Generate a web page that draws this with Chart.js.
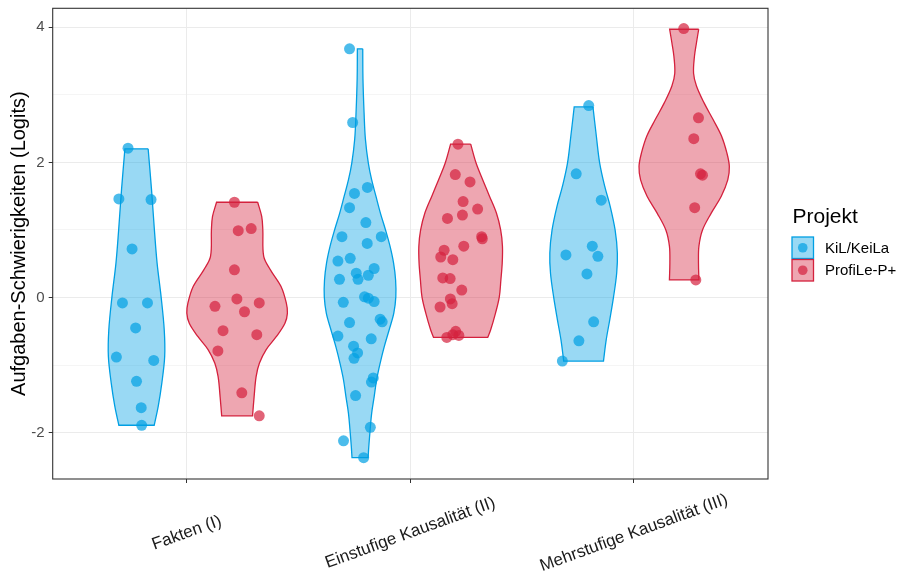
<!DOCTYPE html>
<html>
<head>
<meta charset="utf-8">
<script src="https://cdn.jsdelivr.net/npm/chart.js@4.4.1/dist/chart.umd.min.js"></script>
<style>
  html, body { margin: 0; padding: 0; background: #fff; }
</style>
</head>
<body>
<canvas id="violinChart" width="913" height="573"></canvas>
<script>
// Categories and projects
const categories = ["Fakten (I)", "Einstufige Kausalität (II)", "Mehrstufige Kausalität (III)"];
const projects = ["KiL/KeiLa", "ProfiLe-P+"];
const yTicks = [-2, -1, 0, 1, 2, 3, 4];

// Violin outlines: logit levels (top -> bottom) and half widths (in category units)
const kilFaktenLevels = [2.20, 1.60, 1.00, 0.51, 0.01, -0.48, -0.87, -1.27, -1.61, -1.89];
const kilFaktenWidths = [0.052, 0.067, 0.080, 0.092, 0.110, 0.124, 0.126, 0.113, 0.097, 0.079];
const proFaktenLevels = [1.41, 1.20, 1.00, 0.61, 0.41, 0.16, -0.08, -0.23, -0.38, -0.58, -0.77, -0.97, -1.17, -1.47, -1.75];
const proFaktenWidths = [0.092, 0.110, 0.115, 0.119, 0.149, 0.197, 0.220, 0.225, 0.214, 0.175, 0.130, 0.100, 0.085, 0.076, 0.069];
const kilEinLevels = [3.68, 3.23, 2.73, 2.34, 1.99, 1.74, 1.50, 1.25, 1.00, 0.76, 0.51, 0.26, 0.01, -0.23, -0.48, -0.73, -0.97, -1.22, -1.47, -1.71, -1.96, -2.21, -2.37];
const kilEinWidths = [0.012, 0.013, 0.018, 0.024, 0.037, 0.052, 0.071, 0.091, 0.114, 0.134, 0.150, 0.159, 0.160, 0.151, 0.130, 0.108, 0.090, 0.074, 0.063, 0.052, 0.045, 0.039, 0.036];
const proEinLevels = [2.27, 1.99, 1.74, 1.50, 1.25, 1.00, 0.76, 0.51, 0.26, 0.01, -0.23, -0.48, -0.59];
const proEinWidths = [0.045, 0.069, 0.099, 0.129, 0.160, 0.179, 0.187, 0.186, 0.180, 0.173, 0.156, 0.134, 0.121];
const kilMehrLevels = [2.82, 2.39, 1.99, 1.64, 1.35, 1.00, 0.66, 0.36, 0.01, -0.33, -0.63, -0.94];
const kilMehrWidths = [0.042, 0.057, 0.072, 0.095, 0.119, 0.141, 0.151, 0.148, 0.134, 0.117, 0.101, 0.089];
const proMehrLevels = [3.97, 3.77, 3.57, 3.32, 3.13, 2.88, 2.63, 2.39, 2.14, 1.94, 1.74, 1.50, 1.25, 1.00, 0.76, 0.51, 0.26];
const proMehrWidths = [0.065, 0.055, 0.046, 0.042, 0.055, 0.089, 0.130, 0.167, 0.191, 0.202, 0.195, 0.166, 0.121, 0.082, 0.066, 0.064, 0.066];

// Item difficulties (logits) and their horizontal jitter
const kilFaktenY = [2.21, 1.46, 1.45, 0.72, -0.08, -0.08, -0.45, -0.88, -0.93, -1.24, -1.63, -1.89];
const kilFaktenJitter = [-0.038, -0.079, 0.065, -0.020, -0.063, 0.049, -0.004, -0.090, 0.077, 0.000, 0.021, 0.023];
const proFaktenY = [1.41, 0.99, 1.02, 0.41, -0.02, -0.13, -0.08, -0.21, -0.49, -0.55, -0.79, -1.41, -1.75];
const proFaktenJitter = [-0.012, 0.005, 0.063, -0.012, -0.001, -0.099, 0.099, 0.033, -0.063, 0.088, -0.086, 0.021, 0.099];
const kilEinY = [3.68, 2.59, 1.63, 1.54, 1.33, 1.11, 0.90, 0.80, 0.90, 0.58, 0.54, 0.43, 0.36, 0.33, 0.27, 0.27, 0.01, -0.01, -0.06, -0.07, -0.32, -0.36, -0.37, -0.57, -0.61, -0.72, -0.82, -0.90, -1.19, -1.25, -1.45, -1.92, -2.12, -2.37];
const kilEinJitter = [-0.047, -0.033, 0.033, -0.025, -0.047, 0.026, -0.081, 0.032, 0.095, -0.044, -0.099, 0.063, -0.017, 0.037, -0.009, -0.092, 0.020, 0.037, 0.063, -0.075, 0.090, 0.099, -0.047, -0.099, 0.050, -0.029, -0.011, -0.027, 0.059, 0.051, -0.020, 0.046, -0.074, 0.016];
const proEinY = [2.27, 1.82, 1.71, 1.42, 1.31, 1.22, 1.17, 0.90, 0.87, 0.76, 0.70, 0.60, 0.56, 0.29, 0.28, 0.11, -0.02, -0.09, -0.14, -0.50, -0.55, -0.56, -0.59];
const proEinJitter = [-0.012, -0.024, 0.042, 0.011, 0.076, 0.008, -0.059, 0.094, 0.097, 0.014, -0.074, -0.089, -0.035, -0.080, -0.047, 0.005, -0.046, -0.038, -0.092, -0.022, -0.035, -0.008, -0.062];
const kilMehrY = [2.84, 1.83, 1.44, 0.76, 0.63, 0.61, 0.35, -0.36, -0.64, -0.94];
const kilMehrJitter = [0.023, -0.033, 0.079, 0.039, -0.079, 0.064, 0.015, 0.045, -0.021, -0.095];
const proMehrY = [3.98, 2.66, 2.35, 1.83, 1.81, 1.33, 0.26];
const proMehrJitter = [-0.002, 0.064, 0.043, 0.073, 0.082, 0.047, 0.052];

const lineColors = ["#009FE3", "#D4213D"];
const fillColors = ["rgba(0, 159, 227, 0.4)", "rgba(212, 33, 61, 0.4)"];
const pointColors = ["rgba(0, 159, 227, 0.7)", "rgba(212, 33, 61, 0.7)"];
const dodge = [-0.225, 0.225];

const groups = [
  { cat: 0, proj: 0, levels: kilFaktenLevels, widths: kilFaktenWidths, y: kilFaktenY, jitter: kilFaktenJitter },
  { cat: 0, proj: 1, levels: proFaktenLevels, widths: proFaktenWidths, y: proFaktenY, jitter: proFaktenJitter },
  { cat: 1, proj: 0, levels: kilEinLevels, widths: kilEinWidths, y: kilEinY, jitter: kilEinJitter },
  { cat: 1, proj: 1, levels: proEinLevels, widths: proEinWidths, y: proEinY, jitter: proEinJitter },
  { cat: 2, proj: 0, levels: kilMehrLevels, widths: kilMehrWidths, y: kilMehrY, jitter: kilMehrJitter },
  { cat: 2, proj: 1, levels: proMehrLevels, widths: proMehrWidths, y: proMehrY, jitter: proMehrJitter },
];

// closed outline: right side down, bottom cap, left side up, top cap (corners doubled to keep them sharp)
function outline(g) {
  const c = g.cat + 1 + dodge[g.proj];
  const n = g.levels.length;
  const pts = [];
  for (let i = 0; i < n; i++) pts.push({ x: c + g.widths[i], y: g.levels[i] });
  pts.push({ x: c + g.widths[n - 1], y: g.levels[n - 1] });
  pts.push({ x: c - g.widths[n - 1], y: g.levels[n - 1] });
  for (let i = n - 1; i >= 0; i--) pts.push({ x: c - g.widths[i], y: g.levels[i] });
  pts.push({ x: c - g.widths[0], y: g.levels[0] });
  pts.push({ x: c + g.widths[0], y: g.levels[0] });
  return pts;
}

const datasets = [];
groups.forEach((g) => {
  datasets.push({
    type: "line",
    data: outline(g),
    borderColor: lineColors[g.proj],
    backgroundColor: fillColors[g.proj],
    borderWidth: 1.3,
    fill: "shape",
    tension: 0.35,
    pointRadius: 0,
    order: 2,
  });
});
groups.forEach((g) => {
  datasets.push({
    type: "scatter",
    data: g.y.map((v, i) => ({ x: g.cat + 1 + dodge[g.proj] + g.jitter[i], y: v })),
    backgroundColor: pointColors[g.proj],
    borderWidth: 0,
    pointRadius: 5.5,
    order: 1,
  });
});

const FONT = '"Liberation Sans", Arial, sans-serif';

const decorations = {
  id: "decorations",
  afterDraw(chart) {
    const { ctx, chartArea: a, scales: { x } } = chart;
    ctx.save();
    // panel border
    ctx.strokeStyle = "#333333";
    ctx.lineWidth = 1.1;
    ctx.strokeRect(a.left, a.top, a.right - a.left, a.bottom - a.top);

    // rotated category labels
    ctx.font = "17px " + FONT;
    ctx.fillStyle = "#1a1a1a";
    ctx.textAlign = "center";
    ctx.textBaseline = "middle";
    categories.forEach((c, i) => {
      ctx.save();
      ctx.translate(x.getPixelForValue(i + 1), a.bottom + 54);
      ctx.rotate((-20 * Math.PI) / 180);
      ctx.fillText(c, 0, 0);
      ctx.restore();
    });

    // legend
    ctx.textAlign = "left";
    ctx.textBaseline = "alphabetic";
    ctx.fillStyle = "#000";
    ctx.font = "21px " + FONT;
    ctx.fillText("Projekt", 792.5, 222.5);
    ctx.font = "15px " + FONT;
    projects.forEach((p, i) => {
      const top = 237 + i * 22.5;
      ctx.fillStyle = "#fff";
      ctx.fillRect(792, top, 21.5, 21.5);
      ctx.fillStyle = fillColors[i];
      ctx.fillRect(792, top, 21.5, 21.5);
      ctx.strokeStyle = lineColors[i];
      ctx.lineWidth = 1.3;
      ctx.strokeRect(792, top, 21.5, 21.5);
      ctx.fillStyle = pointColors[i];
      ctx.beginPath();
      ctx.arc(802.75, top + 10.75, 4.8, 0, Math.PI * 2);
      ctx.fill();
      ctx.fillStyle = "#000";
      ctx.fillText(p, 825, top + 15.5);
    });
    ctx.restore();
  },
};

new Chart(document.getElementById("violinChart"), {
  type: "scatter",
  data: { datasets },
  plugins: [decorations],
  options: {
    responsive: false,
    animation: false,
    devicePixelRatio: 1,
    layout: { padding: { left: 0, top: 8.3, right: 145, bottom: 0 } },
    plugins: { legend: { display: false }, tooltip: { enabled: false } },
    scales: {
      x: {
        type: "linear",
        min: 0.4,
        max: 3.6,
        afterBuildTicks: (s) => { s.ticks = [1, 2, 3].map((v) => ({ value: v })); },
        afterFit: (s) => { s.height = 94; s.paddingLeft = 0; s.paddingRight = 0; },
        ticks: { display: false },
        border: { display: false },
        grid: { color: "#ebebeb", lineWidth: 1, tickColor: "#333333", tickLength: 4, tickWidth: 1 },
      },
      y: {
        type: "linear",
        min: -2.685,
        max: 4.28,
        afterBuildTicks: (s) => { s.ticks = yTicks.map((v) => ({ value: v })); },
        afterFit: (s) => { s.width = 52.7; s.paddingTop = 0; s.paddingBottom = 0; },
        border: { display: false },
        grid: {
          color: "#ebebeb",
          lineWidth: (c) => (c.tick && c.tick.value % 2 === 0 ? 1 : 0.5),
          tickColor: (c) => (c.tick && c.tick.value % 2 === 0 ? "#333333" : "rgba(0,0,0,0)"),
          tickLength: 4,
          tickWidth: 1,
        },
        ticks: {
          padding: 4,
          color: "#4d4d4d",
          font: { size: 15, family: FONT },
          callback: (v) => (v % 2 === 0 ? v : ""),
        },
        title: {
          display: true,
          text: "Aufgaben-Schwierigkeiten (Logits)",
          color: "#000",
          font: { size: 20, family: FONT },
          padding: { top: 7, bottom: 0 },
        },
      },
    },
  },
});
</script>
</body>
</html>
